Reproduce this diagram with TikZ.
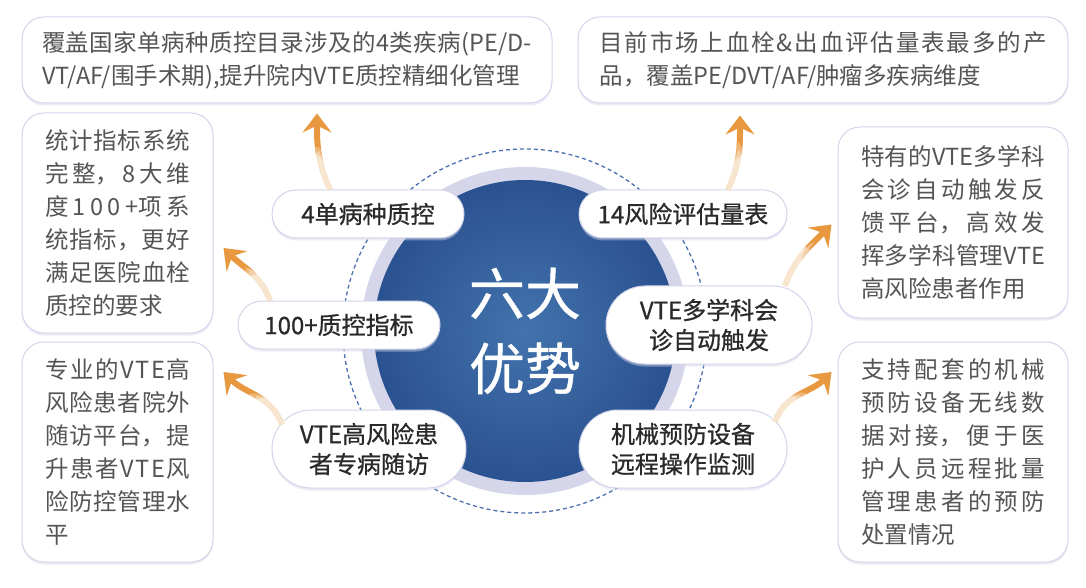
\documentclass[tikz,border=0pt]{standalone}
\usepackage{fontspec}
\setmainfont{Noto Sans CJK SC}
\newfontfamily\pillfont[FakeBold=0.8]{Noto Sans CJK SC}
\usepackage{xcolor}
\usepackage{tikz}
\usetikzlibrary{positioning,arrows.meta,shapes.misc,shadows}
\XeTeXlinebreaklocale "zh"
\XeTeXlinebreakskip=0pt plus 6pt
\newcommand{\gp}{\hskip 0pt plus 6pt}
\definecolor{orng}{HTML}{E8983F}
\definecolor{lav}{HTML}{D3D5EA}
\definecolor{ringc}{HTML}{D5D6EA}
\definecolor{bluein}{HTML}{4273AD}
\definecolor{blueout}{HTML}{2B5290}
\definecolor{dashc}{HTML}{4A70B0}
\definecolor{txt}{HTML}{555555}
\definecolor{dtxt}{HTML}{2A2A2A}
\tikzstyle{box} = [rectangle, rounded corners=22pt, draw=lav, line width=1pt, fill=white, drop shadow={shadow xshift=0pt, shadow yshift=-2.5pt, opacity=0.45, fill=lav}, text=txt, font=\fontsize{23.5pt}{33pt}\selectfont, align=justify, inner sep=0pt]
\tikzstyle{pill} = [rounded rectangle, draw=lav, line width=1pt, fill=white, drop shadow={shadow xshift=0pt, shadow yshift=-2.5pt, opacity=0.45, fill=lav}, text=dtxt, font=\pillfont\fontsize{24pt}{30pt}\selectfont, align=center, inner sep=0pt]
\tikzstyle{core} = [circle, minimum size=302pt, inner sep=0pt, inner color=bluein, outer color=blueout, text=white, font=\pillfont\fontsize{56pt}{75pt}\selectfont, align=center]
\tikzstyle{halo} = [circle, fill=ringc, minimum size=328pt, inner sep=0pt]
\tikzstyle{orbit} = [circle, draw=dashc, dash pattern=on 4pt off 3pt, line width=1.3pt, minimum size=364pt, inner sep=0pt]
\tikzstyle{arw} = [draw=orng, line width=6pt, -{Stealth[length=19pt,width=29pt,inset=7pt]},
  postaction={draw=white, line width=7.5pt, draw opacity=.3, -, shorten >=40pt},
  postaction={draw=white, line width=7.5pt, draw opacity=.35, -, shorten >=55pt},
  postaction={draw=white, line width=7.5pt, draw opacity=.45, -, shorten >=68pt}]

\begin{document}
\begin{tikzpicture}[x=1pt, y=1pt]
\useasboundingbox (0,0) rectangle (1086,587);
\fill[white] (0,0) rectangle (1086,587);
\node[orbit] (Q) at (525,256) {};
\node[halo] (R) at (Q) {};
\node[core] (O) at (R) {六大\\优势};
\node[pill, minimum width=192pt, minimum height=48pt] (A) at (368,373) {4单病种质控};
\node[pill, minimum width=208pt, minimum height=48pt] (B) at (683,373) {14风险评估量表};
\node[pill, minimum width=202pt, minimum height=48pt] (C) at (339,262) {100+质控指标};
\node[pill, minimum width=206pt, minimum height=78pt] (D) at (709,262) {VTE多学科会\\诊自动触发};
\node[pill, minimum width=194pt, minimum height=78pt] (E) at (369,138) {VTE高风险患\\者专病随访};
\node[pill, minimum width=208pt, minimum height=78pt] (F) at (683,138) {机械预防设备\\远程操作监测};
\node[box, text width=490pt, minimum width=530pt, minimum height=86pt] (G) at (287,527) {覆盖国家单病种质控目录涉及的4类疾病(PE/D-\linebreak VT/AF/围手术期),提升院内VTE质控精细化管理};
\node[box, text width=447pt, minimum width=490pt, minimum height=86pt] (H) at (823,527) {目前市场上血栓\&出血评估量表最多的产\linebreak 品，覆盖PE/DVT/AF/肿瘤多疾病维度};
\node[box, text width=145pt, minimum width=191pt, minimum height=220pt] (I) at (117.5,364) {统计指标系统\linebreak 完整，8大维\linebreak 度1\gp 0\gp 0\gp +项系\linebreak 统指标，更好\linebreak 满足医院血栓\linebreak 质控的要求};
\node[box, text width=145pt, minimum width=191pt, minimum height=220pt] (J) at (117.5,135) {专业的V\gp T\gp E高\linebreak 风险患者院外\linebreak 随访平台，提\linebreak 升患者V\gp T\gp E风\linebreak 险防控管理水\linebreak 平};
\node[box, text width=184pt, minimum width=230pt, minimum height=191pt] (K) at (953,364.5) {特有的VTE多学科\linebreak 会诊自动触发反\linebreak 馈平台，高效发\linebreak 挥多学科管理VTE\linebreak 高风险患者作用};
\node[box, text width=184pt, minimum width=230pt, minimum height=220pt] (L) at (953,135) {支持配套的机械\linebreak 预防设备无线数\linebreak 据对接，便于医\linebreak 护人员远程批量\linebreak 管理患者的预防\linebreak 处置情况};
\draw[arw] ([xshift=-38pt]A.north) to[out=115,in=-90] ([xshift=30pt,yshift=-10pt]G.south);
\draw[arw] ([xshift=45pt]B.north) to[out=65,in=-90] ([xshift=-83pt,yshift=-12pt]H.south);
\draw[arw] ([xshift=-69pt]C.north) to[out=110,in=-45] ([xshift=10pt,yshift=-25pt]I.east);
\draw[arw] ([xshift=-87pt,yshift=-15pt]E.north) to[out=110,in=-45] ([xshift=10pt,yshift=80pt]J.east);
\draw[arw] ([xshift=76pt]D.north) to[out=70,in=-135] ([xshift=-6pt,yshift=-2pt]K.west);
\draw[arw] ([xshift=92pt,yshift=-12pt]F.north) to[out=70,in=-135] ([xshift=-6pt,yshift=80pt]L.west);
\end{tikzpicture}
\end{document}
